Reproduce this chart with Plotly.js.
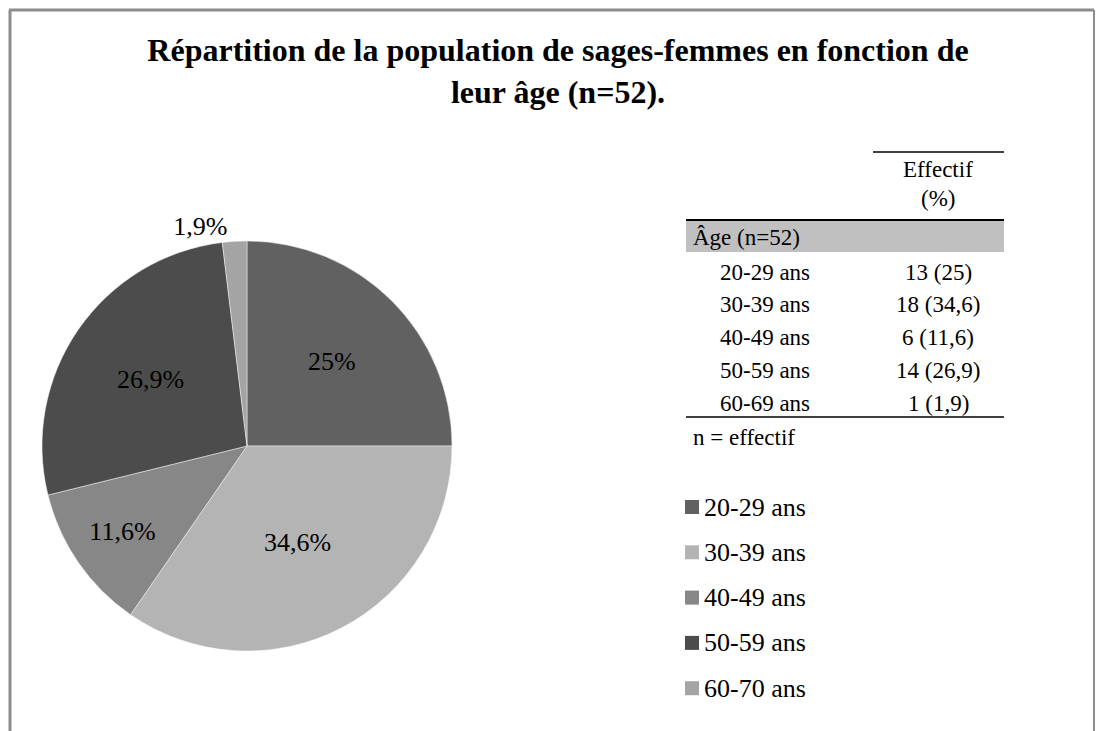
<!DOCTYPE html>
<html>
<head>
<meta charset="utf-8">
<script src="https://cdn.plot.ly/plotly-3.0.1.min.js"></script>
<style>html,body{margin:0;padding:0;background:#fff;}#chart{width:1096px;height:731px;}</style>
</head>
<body>
<div id="chart"></div>
<script>
// ---- data ----
const sliceLabels = ["20-29 ans", "30-39 ans", "40-49 ans", "50-59 ans", "60-70 ans"];
const counts = [13, 18, 6, 14, 1];
const sliceText = ["25%", "34,6%", "11,6%", "26,9%", "1,9%"];
const sliceColors = ["#616161", "#b4b4b4", "#878787", "#4c4c4c", "#a4a4a4"];
const tableAges = ["20-29 ans", "30-39 ans", "40-49 ans", "50-59 ans", "60-69 ans"];
const tablePct = ["25", "34,6", "11,6", "26,9", "1,9"];
const tableHeader = ["Effectif", "(%)"];
const tableGroup = "Âge (n=52)";
const tableNote = "n = effectif";
const titleText = "Répartition de la population de sages-femmes en fonction de<br>leur âge (n=52).";

// ---- layout helpers ----
const W = 1096, H = 731;
const px = x => x / W;
const py = y => 1 - y / H;
const SERIF = "Liberation Serif, Times New Roman, serif";

const shapes = [];
const annotations = [];

// frame
shapes.push({type: "line", xref: "paper", yref: "paper", x0: px(10), x1: px(10), y0: py(10), y1: py(740), line: {color: "#8c8c8c", width: 3}});
shapes.push({type: "line", xref: "paper", yref: "paper", x0: px(9), x1: px(1094), y0: py(10), y1: py(10), line: {color: "#8c8c8c", width: 3}});
shapes.push({type: "line", xref: "paper", yref: "paper", x0: px(1094), x1: px(1094), y0: py(10), y1: py(740), line: {color: "#8c8c8c", width: 2}});

// table
const tL = 686, tR = 1004, colC = 938, rowLabC = 765;
shapes.push({type: "line", xref: "paper", yref: "paper", x0: px(873), x1: px(tR), y0: py(152), y1: py(152), line: {color: "#000", width: 1.5}});
shapes.push({type: "rect", xref: "paper", yref: "paper", x0: px(tL), x1: px(tR), y0: py(252), y1: py(220), fillcolor: "#c0c0c0", line: {width: 0}});
shapes.push({type: "line", xref: "paper", yref: "paper", x0: px(tL), x1: px(tR), y0: py(220), y1: py(220), line: {color: "#000", width: 2}});
shapes.push({type: "line", xref: "paper", yref: "paper", x0: px(tL), x1: px(tR), y0: py(417), y1: py(417), line: {color: "#000", width: 1.5}});

const tFont = {family: SERIF, size: 23, color: "#000"};
tableHeader.forEach((t, i) => {
  annotations.push({xref: "paper", yref: "paper", x: px(colC), y: py(169 + i * 29), text: t, showarrow: false, xanchor: "center", yanchor: "middle", font: tFont});
});
annotations.push({xref: "paper", yref: "paper", x: px(691), y: py(237), text: tableGroup, showarrow: false, xanchor: "left", yanchor: "middle", font: tFont});
tableAges.forEach((a, i) => {
  const y = 272 + i * 32.8;
  annotations.push({xref: "paper", yref: "paper", x: px(rowLabC), y: py(y), text: a, showarrow: false, xanchor: "center", yanchor: "middle", font: tFont});
  annotations.push({xref: "paper", yref: "paper", x: px(colC), y: py(y), text: counts[i] + " (" + tablePct[i] + ")", showarrow: false, xanchor: "center", yanchor: "middle", font: tFont});
});
annotations.push({xref: "paper", yref: "paper", x: px(691), y: py(437), text: tableNote, showarrow: false, xanchor: "left", yanchor: "middle", font: tFont});

// manual legend
sliceLabels.forEach((l, i) => {
  const y = 507 + i * 45.3;
  shapes.push({type: "rect", xref: "paper", yref: "paper", x0: px(685), x1: px(699), y0: py(y + 7), y1: py(y - 7), fillcolor: sliceColors[i], line: {width: 0}});
  annotations.push({xref: "paper", yref: "paper", x: px(702), y: py(y), text: l, showarrow: false, xanchor: "left", yanchor: "middle", font: {family: SERIF, size: 26, color: "#000"}});
});

const trace = {
  type: "pie",
  labels: sliceLabels,
  values: counts,
  text: sliceText,
  textinfo: "text",
  textposition: ["inside", "inside", "inside", "inside", "outside"],
  insidetextorientation: "horizontal",
  sort: false,
  direction: "clockwise",
  rotation: 0,
  marker: {colors: sliceColors, line: {color: "rgba(255,255,255,0.45)", width: 1}},
  insidetextfont: {family: SERIF, size: 26, color: "#000"},
  outsidetextfont: {family: SERIF, size: 26, color: "#000"},
  textfont: {family: SERIF, size: 26, color: "#000"},
  domain: {x: [px(42), px(452)], y: [py(651), py(241)]},
  hoverinfo: "label+value",
  showlegend: false
};

const layout = {
  width: W, height: H,
  margin: {l: 0, r: 0, t: 0, b: 0},
  paper_bgcolor: "#fff",
  plot_bgcolor: "#fff",
  showlegend: false,
  font: {family: SERIF, color: "#000"},
  title: {
    text: "<b>" + titleText + "</b>",
    x: px(558), xanchor: "center",
    y: py(61), yanchor: "top",
    font: {family: SERIF, size: 32, color: "#000"}
  },
  shapes: shapes,
  annotations: annotations
};

Plotly.newPlot("chart", [trace], layout, {displayModeBar: false, staticPlot: true});
</script>
</body>
</html>
